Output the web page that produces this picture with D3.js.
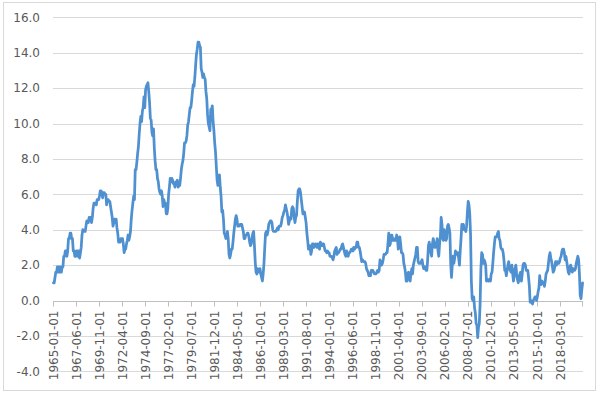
<!DOCTYPE html>
<html><head><meta charset="utf-8">
<script src="https://cdn.jsdelivr.net/npm/d3@7/dist/d3.min.js"></script>
<style>
html,body{margin:0;padding:0;background:#fff;}
svg{display:block;font-family:"DejaVu Sans",Verdana,sans-serif;}
</style></head>
<body><svg id="chart" width="600" height="394"></svg>
<script>
// Monthly series, year-over-year %, starting 1965-01
const startYear = 1965;
const values1965_1974 = [
 1.0,1.0,1.3,1.6,1.6,1.9,1.6,1.9,1.6,1.9,1.6,1.9,
 1.9,2.5,2.5,2.8,2.8,2.5,2.8,3.5,3.5,3.8,3.8,3.5,
 3.5,2.8,2.8,2.5,2.5,2.8,2.8,2.5,2.8,2.4,2.7,3.0,
 3.7,4.0,3.9,3.9,3.9,4.2,4.5,4.5,4.4,4.7,4.7,4.7,
 4.4,4.7,5.2,5.5,5.5,5.5,5.4,5.7,5.7,5.7,5.9,6.2,
 6.2,6.1,5.8,6.1,6.1,6.0,6.0,5.4,5.7,5.7,5.6,5.6,
 5.3,5.0,4.7,4.2,4.4,4.6,4.4,4.6,4.1,3.8,3.3,3.3,
 3.3,3.5,3.5,3.5,3.2,2.7,2.9,2.9,3.2,3.4,3.7,3.4,
 3.6,3.9,4.6,5.1,5.5,5.9,5.7,7.4,7.4,7.8,8.3,8.7,
 9.4,10.0,10.4,10.1,10.7,10.9,11.5,10.9,11.9,12.1,12.2,12.3
];
const values1975_1984 = [
 11.8,11.2,10.3,10.2,9.5,9.3,9.7,8.6,7.9,7.4,7.4,6.9,
 6.7,6.3,6.1,6.0,6.2,5.9,5.3,5.7,5.5,5.5,4.9,4.9,
 5.2,6.0,6.4,6.9,6.7,6.9,6.8,6.6,6.6,6.4,6.7,6.7,
 6.8,6.4,6.6,6.5,6.9,7.4,7.7,7.9,8.3,8.9,8.9,9.0,
 9.3,9.9,10.1,10.5,10.9,10.9,11.3,11.8,12.2,12.1,12.6,13.3,
 13.9,14.2,14.6,14.6,14.4,14.3,13.1,12.9,12.6,12.8,12.6,12.5,
 11.8,11.4,10.5,10.0,9.8,9.6,10.8,10.8,11.0,10.1,9.6,8.9,
 8.4,7.6,6.8,6.5,6.7,7.1,6.4,5.9,5.0,5.1,4.6,3.8,
 3.7,3.5,3.6,3.9,3.5,2.6,2.4,2.6,2.9,2.9,3.3,3.8,
 4.2,4.6,4.8,4.6,4.2,4.2,4.2,4.3,4.3,4.3,4.1,3.9
];
const values1985_1994 = [
 3.5,3.5,3.7,3.7,3.8,3.8,3.6,3.3,3.1,3.2,3.5,3.8,
 3.9,3.1,2.2,1.6,1.5,1.8,1.6,1.6,1.8,1.5,1.3,1.1,
 1.5,2.1,3.0,3.8,3.9,3.7,3.9,4.3,4.4,4.5,4.5,4.4,
 4.0,3.9,3.9,3.9,3.9,4.0,4.1,4.0,4.2,4.2,4.2,4.4,
 4.7,4.8,5.0,5.1,5.4,5.2,5.0,4.7,4.3,4.5,4.7,4.6,
 5.2,5.3,5.2,4.7,4.4,4.7,4.8,5.6,6.2,6.3,6.3,6.1,
 5.7,5.3,4.9,4.9,5.0,4.7,4.4,3.8,3.4,2.9,3.0,3.1,
 2.6,2.8,3.2,3.2,3.0,3.1,3.2,3.1,3.0,3.2,3.0,2.9,
 3.3,3.2,3.1,3.2,3.2,3.0,2.8,2.8,2.7,2.8,2.7,2.7,
 2.5,2.5,2.5,2.4,2.3,2.5,2.8,2.9,3.0,2.6,2.7,2.7
];
const values1995_2004 = [
 2.8,2.9,2.9,3.1,3.2,3.0,2.8,2.6,2.5,2.8,2.6,2.5,
 2.7,2.7,2.8,2.9,2.9,2.8,3.0,2.9,3.0,3.0,3.3,3.3,
 3.0,3.0,2.8,2.5,2.2,2.3,2.2,2.2,2.2,2.1,1.8,1.7,
 1.6,1.4,1.4,1.4,1.7,1.7,1.7,1.6,1.5,1.5,1.5,1.6,
 1.7,1.6,1.7,2.3,2.1,2.0,2.1,2.3,2.6,2.6,2.6,2.7,
 2.7,3.2,3.8,3.1,3.2,3.7,3.7,3.4,3.5,3.4,3.4,3.4,
 3.7,3.5,2.9,3.3,3.6,3.2,2.7,2.7,2.6,2.1,1.9,1.6,
 1.1,1.1,1.5,1.6,1.2,1.1,1.5,1.8,1.5,2.0,2.2,2.4,
 2.6,3.0,3.0,2.2,2.1,2.1,2.1,2.2,2.3,2.0,1.8,1.9,
 1.9,1.7,1.7,2.3,3.1,3.3,3.0,2.7,2.5,3.2,3.5,3.3
];
const values2005_2014 = [
 3.0,3.0,3.1,3.5,2.8,2.5,3.2,3.6,4.7,4.3,3.5,3.4,
 4.0,3.6,3.4,3.5,4.2,4.3,4.1,3.8,2.1,1.3,2.0,2.5,
 2.1,2.4,2.8,2.6,2.7,2.7,2.4,2.0,2.8,3.5,4.3,4.1,
 4.3,4.0,4.0,3.9,4.2,5.0,5.6,5.4,4.9,3.7,1.1,0.1,
 0.0,0.2,-0.4,-0.7,-1.3,-1.4,-2.1,-1.5,-1.3,-0.2,1.8,2.7,
 2.6,2.1,2.3,2.2,2.0,1.1,1.2,1.1,1.1,1.2,1.1,1.5,
 1.6,2.1,2.7,3.2,3.6,3.6,3.6,3.8,3.9,3.5,3.4,3.0,
 2.9,2.9,2.7,2.3,1.7,1.7,1.4,1.7,2.0,2.2,1.8,1.7,
 1.6,2.0,1.5,1.1,1.4,1.8,2.0,1.5,1.2,1.0,1.2,1.5,
 1.6,1.1,1.5,2.0,2.1,2.1,2.0,1.7,1.7,1.7,1.3,0.8
];
const values2015_2020 = [
 -0.1,0.0,-0.1,-0.2,0.0,0.1,0.2,0.2,0.0,0.2,0.5,0.7,
 1.4,1.0,0.9,1.1,1.0,1.0,0.8,1.1,1.5,1.6,1.7,2.1,
 2.5,2.7,2.4,2.2,1.9,1.6,1.7,1.9,2.2,2.0,2.2,2.1,
 2.1,2.2,2.4,2.5,2.8,2.9,2.9,2.7,2.3,2.5,2.2,1.9,
 1.6,1.5,1.9,2.0,1.8,1.6,1.8,1.7,1.7,1.8,2.1,2.3,
 2.5,2.3,1.5,0.3,0.1,0.6,1.0
];
const yTicks = [-4, -2, 0, 2, 4, 6, 8, 10, 12, 14, 16];
const xTickLabels = ["1965-01-01","1967-06-01","1969-11-01","1972-04-01","1974-09-01",
 "1977-02-01","1979-07-01","1981-12-01","1984-05-01","1986-10-01","1989-03-01",
 "1991-08-01","1994-01-01","1996-06-01","1998-11-01","2001-04-01","2003-09-01",
 "2006-02-01","2008-07-01","2010-12-01","2013-05-01","2015-10-01","2018-03-01"];

(function () {
const values = [].concat(values1965_1974, values1975_1984, values1985_1994,
                         values1995_2004, values2005_2014, values2015_2020);
const pad = n => String(n).padStart(2, "0");
const categories = values.map((v, i) =>
  `${startYear + Math.floor(i / 12)}-${pad(i % 12 + 1)}-01`);
const data = categories.map((c, i) => ({c, v: values[i]}));

const svg = d3.select("#chart");
svg.append("rect").attr("x", 3.5).attr("y", 2.5).attr("width", 592).attr("height", 388)
  .attr("fill", "#fff").attr("stroke", "#d9d9d9").attr("stroke-width", 1);

const mL = 53, mR = 583, mT = 17.3, mB = 371.3;
const x = d3.scaleBand().domain(categories).range([mL, mR]);
const y = d3.scaleLinear().domain([-4, 16]).range([mB, mT]);

svg.append("g").selectAll("line").data(yTicks).join("line")
  .attr("x1", mL).attr("x2", mR)
  .attr("y1", d => Math.round(y(d)) + 0.5).attr("y2", d => Math.round(y(d)) + 0.5)
  .attr("stroke", "#d9d9d9").attr("stroke-width", 1);

svg.append("g").selectAll("text").data(yTicks).join("text")
  .attr("x", 40).attr("y", d => y(d)).attr("dy", "0.35em")
  .attr("text-anchor", "end").attr("font-size", 12).attr("fill", "#595959")
  .text(d => d.toFixed(1));

const y0 = Math.round(y(0)) + 0.5;
svg.append("line").attr("x1", mL).attr("x2", mR).attr("y1", y0).attr("y2", y0)
  .attr("stroke", "#bfbfbf").attr("stroke-width", 1);
svg.append("g").selectAll("line").data(xTickLabels.concat([null])).join("line")
  .attr("x1", d => d ? Math.round(x(d)) + 0.5 : mR - 0.5)
  .attr("x2", d => d ? Math.round(x(d)) + 0.5 : mR - 0.5)
  .attr("y1", y0).attr("y2", y0 + 5)
  .attr("stroke", "#bfbfbf").attr("stroke-width", 1);
svg.append("g").selectAll("text").data(xTickLabels).join("text")
  .attr("transform", d => `translate(${x(d) + x.bandwidth() / 2},${y0 + 9}) rotate(-90)`)
  .attr("dy", "0.35em").attr("text-anchor", "end")
  .attr("font-size", 12).attr("fill", "#595959")
  .text(d => d);

const line = d3.line().x(d => x(d.c) + x.bandwidth() / 2).y(d => y(d.v));
svg.append("path").datum(data).attr("d", line)
  .attr("fill", "none").attr("stroke", "#4f90d0").attr("stroke-width", 2.75)
  .attr("stroke-linejoin", "round").attr("stroke-linecap", "round");
})();
</script></body></html>
